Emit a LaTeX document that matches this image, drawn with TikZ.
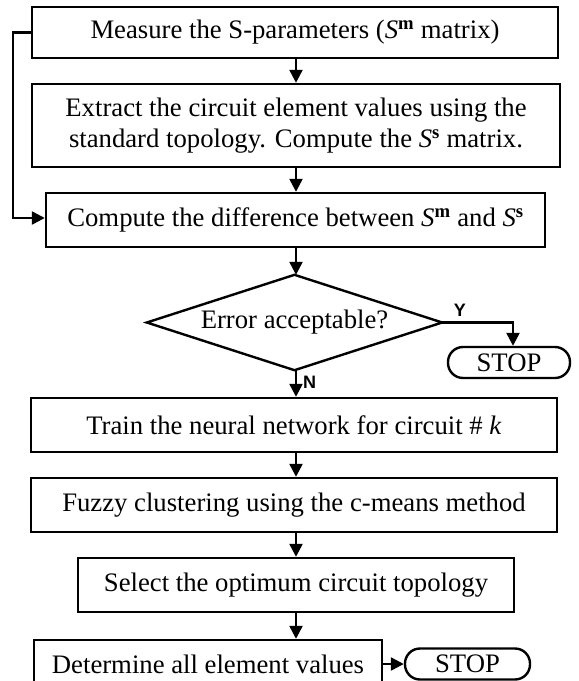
\documentclass[tikz,border=0pt]{standalone}
\usepackage{fontspec}
\setmainfont{Liberation Serif}
\newfontfamily\labfont{Liberation Sans}
\usetikzlibrary{arrows.meta,calc}
\tikzset{
  box/.style={draw, line width=2.4pt, rectangle, inner sep=0pt, align=center, font=\fontsize{26.7}{31}\selectfont},
  stopbox/.style={draw, line width=2.4pt, rectangle, rounded corners=15pt, inner sep=0pt, font=\fontsize{26.7}{31}\selectfont},
  flow/.style={line width=2.4pt, -{Triangle[width=13pt,length=13pt]}},
  lab/.style={font=\labfont\bfseries\fontsize{18}{20}\selectfont, inner sep=0pt}
}
\newcommand{\Sm}{\textit{S}\textsuperscript{\textbf{m}}}
\newcommand{\Ss}{\textit{S}\textsuperscript{\textbf{s}}}
\begin{document}
\begin{tikzpicture}[x=1pt,y=-1pt]
\clip (0,0) rectangle (579,681);
\fill[white] (0,0) rectangle (579,681);
\coordinate (ax) at (296,0);
\node[box, minimum width=526pt, minimum height=51pt] (b1) at (295,32.5) {Measure the S-parameters (\Sm{} matrix)};
\node[box, minimum width=528pt, minimum height=83pt] (b2) at (296,125.5) {Extract the circuit element values using the\\standard topology. Compute the \Ss{} matrix.};
\node[box, minimum width=499pt, minimum height=54pt] (b3) at (295.5,220) {Compute the difference between \Sm{} and \Ss};
\node[rectangle, inner sep=0pt, minimum width=295pt, minimum height=95pt, font=\fontsize{26.7}{31}\selectfont] (d) at (294.5,322.5) {Error acceptable?};
\draw[line width=2.4pt, line join=miter] (d.north) -- (d.east) -- (d.south) -- (d.west) -- cycle;
\node[stopbox, minimum width=122pt, minimum height=31pt] (s1) at (509,362.5) {STOP};
\node[box, minimum width=526pt, minimum height=54pt] (b4) at (294,425) {Train the neural network for circuit \# \textit{k}};
\node[box, minimum width=526pt, minimum height=54pt] (b5) at (294,505) {Fuzzy clustering using the c-means method};
\node[box, minimum width=436pt, minimum height=54pt] (b6) at (296,585) {Select the optimum circuit topology};
\node[box, minimum width=348pt, minimum height=70pt] (b7) at (208,675) {};
\node[font=\fontsize{26.7}{31}\selectfont, inner sep=0pt] (t7) at (208,664) {Determine all element values};
\node[stopbox, minimum width=125pt, minimum height=31pt] (s2) at (467.5,664) {STOP};
\coordinate (loopx) at (13,0);
\coordinate (yx) at (513,0);
% connectors
\draw[flow] (b1.south -| ax) -- (b2.north -| ax);
\draw[flow] (b2.south -| ax) -- (b3.north -| ax);
\draw[flow] (b3.south -| ax) -- (d.north -| ax);
\draw[flow] (d.south -| ax) -- (b4.north -| ax) node[lab, pos=0.45, right=6pt] {N};
\draw[flow] (b4.south -| ax) -- (b5.north -| ax);
\draw[flow] (b5.south -| ax) -- (b6.north -| ax);
\draw[flow] (b6.south -| ax) -- (b7.north -| ax);
\draw[flow] (d.east) -- (d.east -| yx) node[lab, pos=0.25, above=5pt] {Y} -- (s1.north -| yx);
\draw[flow] (b1.west) -- (b1.west -| loopx) -- ($(b3.west -| loopx)+(0,-2)$) -- ($(b3.west)+(0,-2)$);
\draw[flow] (t7.east -| b7.east) -- (s2.west);
\end{tikzpicture}
\end{document}
